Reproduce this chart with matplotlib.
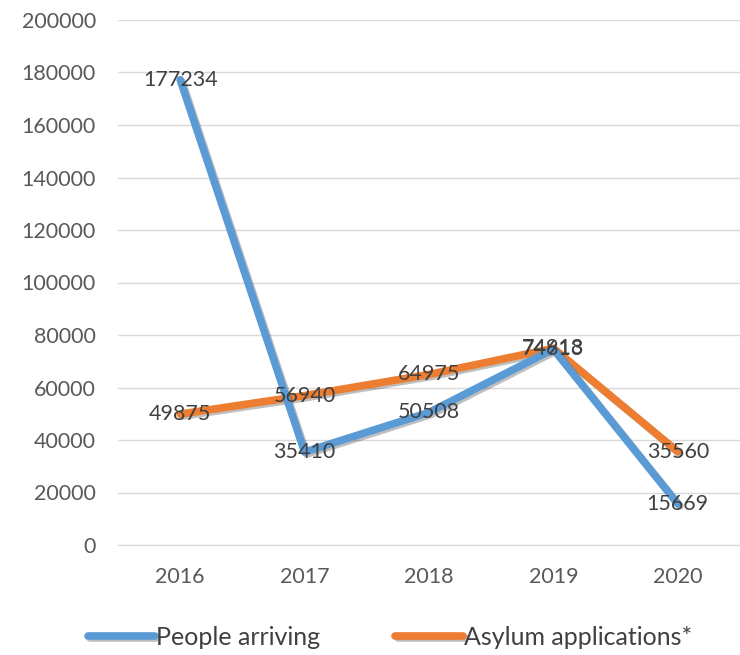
import matplotlib.pyplot as plt
import matplotlib.patheffects as pe

years = ['2016', '2017', '2018', '2019', '2020']
people_arriving = [177234, 35410, 50508, 74613, 15669]
asylum_applications = [49875, 56940, 64975, 74918, 35560]
y_ticks = list(range(0, 200001, 20000))

plt.rcParams['font.family'] = ['Lato', 'DejaVu Sans']

fig = plt.figure(figsize=(7.4, 6.55), dpi=100)
ax = fig.add_axes([118 / 740, 110 / 655, 622 / 740, 525 / 655])

x = list(range(len(years)))
shadow = [pe.SimpleLineShadow(offset=(1.5, -1.5), alpha=0.25), pe.Normal()]
ax.plot(x, asylum_applications, color='#ED7D31', lw=5.5, solid_capstyle='round',
        label='Asylum applications*', path_effects=shadow, zorder=3)
ax.plot(x, people_arriving, color='#5B9BD5', lw=5.5, solid_capstyle='round',
        label='People arriving', path_effects=shadow, zorder=4)

for xi, v in zip(x, asylum_applications):
    ax.text(xi, v, str(v), ha='center', va='center', fontsize=15.5, color='#404040', zorder=5)
for xi, v in zip(x, people_arriving):
    ax.text(xi, v, str(v), ha='center', va='center', fontsize=15.5, color='#404040', zorder=5)

ax.set_xlim(-0.5, 4.5)
ax.set_ylim(0, 200000)
ax.set_yticks(y_ticks)
ax.set_yticklabels([str(t) for t in y_ticks])
ax.set_xticks(x)
ax.set_xticklabels(years)
ax.tick_params(axis='both', length=0, labelsize=15.5, labelcolor='#595959')
ax.tick_params(axis='x', pad=16)
ax.tick_params(axis='y', pad=16)
ax.grid(axis='y', color='#d9d9d9', lw=1)
ax.set_axisbelow(True)
for s in ['top', 'right', 'left']:
    ax.spines[s].set_visible(False)
ax.spines['bottom'].set_color('#d9d9d9')

handles, labels = ax.get_legend_handles_labels()
fig.legend(handles[::-1], labels[::-1], loc='center', bbox_to_anchor=(390 / 740, 0.027),
           ncol=2, frameon=False, fontsize=18, handlelength=2.7, handletextpad=0.05,
           columnspacing=3.0, labelcolor='#404040')

plt.savefig('out.png', dpi=100)
